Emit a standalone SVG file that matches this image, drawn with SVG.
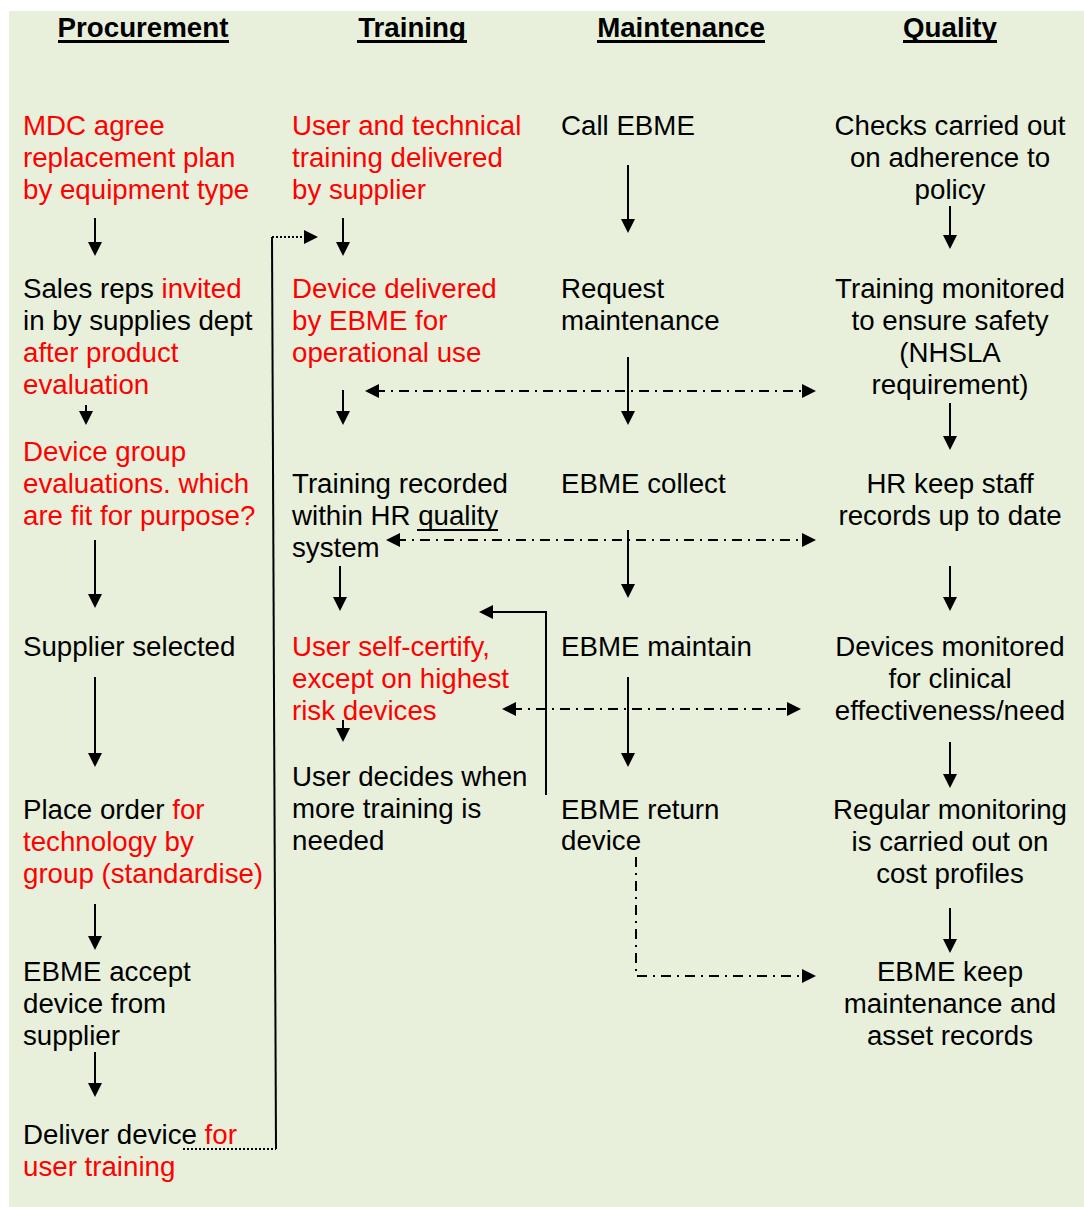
<svg xmlns="http://www.w3.org/2000/svg" width="1084" height="1207" viewBox="0 0 1084 1207">
<style>
text{font-family:"Liberation Sans",Arial,sans-serif;font-size:27.7px;fill:#000}
.h{font-weight:bold;text-anchor:middle}
.r{fill:#FF0000}
.q{text-anchor:middle}
.a{stroke:#000;stroke-width:2;fill:none;marker-end:url(#ah)}
.dd{stroke:#000;stroke-width:2;fill:none;stroke-dasharray:10 6 2 6}
.dot{stroke:#000;stroke-width:2;fill:none;stroke-dasharray:2 2}
.sl{stroke:#000;stroke-width:2;fill:none}
</style>
<defs>
<marker id="ah" viewBox="0 0 14 14" refX="4" refY="7" markerWidth="14" markerHeight="14" orient="auto-start-reverse" markerUnits="userSpaceOnUse"><path d="M0,0 L14,7 L0,14 z" fill="#000"/></marker>
</defs>
<rect x="0" y="0" width="1084" height="1207" fill="#fff"/>
<rect x="9" y="11" width="1075" height="1196" fill="#E8F0DC"/>

<g id="headers">
<text class="h" x="143" y="37">Procurement</text><rect x="58" y="40" width="171" height="3"/>
<text class="h" x="412" y="37">Training</text><rect x="357" y="40" width="110" height="3"/>
<text class="h" x="681" y="37">Maintenance</text><rect x="597" y="40" width="168" height="3"/>
<text class="h" x="950" y="37">Quality</text><rect x="903" y="40" width="94" height="3"/>
</g>

<g id="p1"><text class="r" x="23" y="135">MDC agree</text><text class="r" x="23" y="167">replacement plan</text><text class="r" x="23" y="199">by equipment type</text></g>
<g id="p2"><text x="23" y="298">Sales reps <tspan class="r">invited</tspan></text><text x="23" y="330">in by supplies dept</text><text class="r" x="23" y="362">after product</text><text class="r" x="23" y="394">evaluation</text></g>
<g id="p3"><text class="r" x="23" y="461">Device group</text><text class="r" x="23" y="493">evaluations. which</text><text class="r" x="23" y="525">are fit for purpose?</text></g>
<g id="p4"><text x="23" y="656">Supplier selected</text></g>
<g id="p5"><text x="23" y="819">Place order <tspan class="r">for</tspan></text><text class="r" x="23" y="851">technology by</text><text class="r" x="23" y="883">group (standardise)</text></g>
<g id="p6"><text x="23" y="981">EBME accept</text><text x="23" y="1013">device from</text><text x="23" y="1045">supplier</text></g>
<g id="p7"><text x="23" y="1144">Deliver device <tspan class="r">for</tspan></text><text class="r" x="23" y="1176">user training</text></g>

<g id="t1"><text class="r" x="292" y="135">User and technical</text><text class="r" x="292" y="167">training delivered</text><text class="r" x="292" y="199">by supplier</text></g>
<g id="t2"><text class="r" x="292" y="298">Device delivered</text><text class="r" x="292" y="330">by EBME for</text><text class="r" x="292" y="362">operational use</text></g>
<g id="t3"><text x="292" y="493">Training recorded</text><text x="292" y="525">within HR quality</text><rect x="417" y="529" width="81" height="2"/><text x="292" y="557">system</text></g>
<g id="t4"><text class="r" x="292" y="656">User self-certify,</text><text class="r" x="292" y="688">except on highest</text><text class="r" x="292" y="720">risk devices</text></g>
<g id="t5"><text x="292" y="786">User decides when</text><text x="292" y="818">more training is</text><text x="292" y="850">needed</text></g>

<g id="m1"><text x="561" y="135">Call EBME</text></g>
<g id="m2"><text x="561" y="298">Request</text><text x="561" y="330">maintenance</text></g>
<g id="m3"><text x="561" y="493">EBME collect</text></g>
<g id="m4"><text x="561" y="656">EBME maintain</text></g>
<g id="m5"><text x="561" y="819">EBME return</text><text x="561" y="850">device</text></g>

<g id="q1"><text class="q" x="950" y="135">Checks carried out</text><text class="q" x="950" y="167">on adherence to</text><text class="q" x="950" y="199">policy</text></g>
<g id="q2"><text class="q" x="950" y="298">Training monitored</text><text class="q" x="950" y="330">to ensure safety</text><text class="q" x="950" y="362">(NHSLA</text><text class="q" x="950" y="394">requirement)</text></g>
<g id="q3"><text class="q" x="950" y="493">HR keep staff</text><text class="q" x="950" y="525">records up to date</text></g>
<g id="q4"><text class="q" x="950" y="656">Devices monitored</text><text class="q" x="950" y="688">for clinical</text><text class="q" x="950" y="720">effectiveness/need</text></g>
<g id="q5"><text class="q" x="950" y="819">Regular monitoring</text><text class="q" x="950" y="851">is carried out on</text><text class="q" x="950" y="883">cost profiles</text></g>
<g id="q6"><text class="q" x="950" y="981">EBME keep</text><text class="q" x="950" y="1013">maintenance and</text><text class="q" x="950" y="1045">asset records</text></g>

<g id="connectors">
<path class="a" d="M95,218 V246"/>
<path class="a" d="M86,405 V415"/>
<path class="a" d="M95,540 V598"/>
<path class="a" d="M95,677 V757"/>
<path class="a" d="M95,904 V940"/>
<path class="a" d="M95,1052 V1087"/>

<path class="a" d="M343,218 V246"/>
<path class="a" d="M343,390 V415"/>
<path class="a" d="M340,566 V601"/>
<path class="a" d="M343,720 V732"/>

<path class="a" d="M628,165 V223"/>
<path class="a" d="M628,357 V415"/>
<path class="a" d="M628,530 V588"/>
<path class="a" d="M628,677 V757"/>

<path class="a" d="M950,206 V239"/>
<path class="a" d="M950,403 V440"/>
<path class="a" d="M950,566 V601"/>
<path class="a" d="M950,742 V778"/>
<path class="a" d="M950,908 V943"/>

<path class="dd" d="M375,391 H806" marker-start="url(#ah)" marker-end="url(#ah)"/>
<path class="dd" d="M396,540 H806" marker-start="url(#ah)" marker-end="url(#ah)"/>
<path class="dd" d="M512,709 H791" marker-start="url(#ah)" marker-end="url(#ah)"/>
<path class="dd" d="M636,857 V976 H806" marker-end="url(#ah)"/>

<path class="a" d="M546,795 V612 H489"/>

<path class="dot" d="M183,1149 H276"/>
<path class="sl" d="M276,1149 L272,237"/>
<path class="dot" d="M272,237 H308" marker-end="url(#ah)"/>
</g>
</svg>
